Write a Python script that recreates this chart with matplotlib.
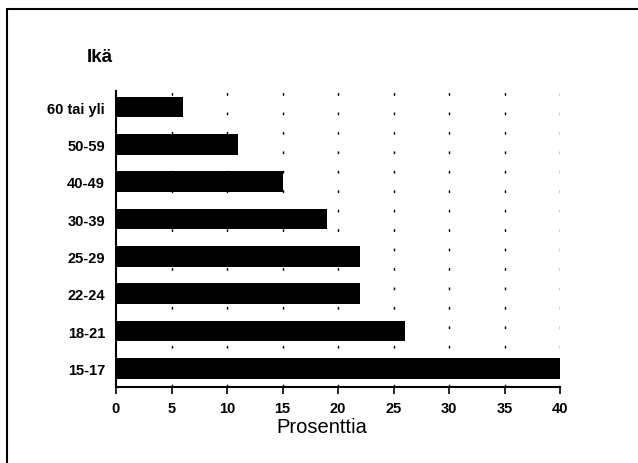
import matplotlib
matplotlib.use('Agg')
import matplotlib.pyplot as plt
from matplotlib.patches import Rectangle

plt.rcParams['font.family'] = ['Liberation Sans', 'DejaVu Sans']

# age groups, bottom to top
groups = ['15-17', '18-21', '22-24', '25-29', '30-39', '40-49', '50-59', '60 tai yli']
percent = [40, 26, 22, 22, 19, 15, 11, 6]
xticks = [0, 5, 10, 15, 20, 25, 30, 35, 40]

fig = plt.figure(figsize=(6.38, 4.64), dpi=100)
ax = fig.add_axes([116/638, 1 - 388/464, 444/638, 296/464])

ypos = list(range(len(groups)))
ax.barh(ypos, percent, height=0.55, color='black', zorder=3)

ax.set_xlim(0, 40)
ax.set_ylim(-0.5, 7.43)
ax.set_xticks(xticks)
ax.set_xticklabels([str(t) for t in xticks], fontsize=10.5, fontweight='bold')
ax.set_yticks(ypos)
ax.set_yticklabels(groups, fontsize=10.5, fontweight='bold')
ax.tick_params(axis='y', length=0, pad=8)
ax.tick_params(axis='x', length=5, width=1.2, direction='out', pad=5)

for t in xticks[1:]:
    ax.axvline(t, color='black', linewidth=1.0, linestyle=(0, (2, 12)), zorder=1)

for s in ['top', 'right']:
    ax.spines[s].set_visible(False)
ax.spines['left'].set_linewidth(1.5)
ax.spines['bottom'].set_linewidth(1.5)

fig.text(322/638, 1 - 428/464, 'Prosenttia', fontsize=14.5, ha='center', va='center')
fig.text(87/638, 1 - 58/464, 'Ikä', fontsize=13.5, fontweight='bold', va='center', ha='left')

# frame around the figure (only top and left show in the scan)
fig.patches.append(Rectangle((7/638, -0.1), 1.2, 1 - 10/464 + 0.1, transform=fig.transFigure,
                             fill=False, edgecolor='black', linewidth=1.5))

fig.savefig('out.png', dpi=100)
